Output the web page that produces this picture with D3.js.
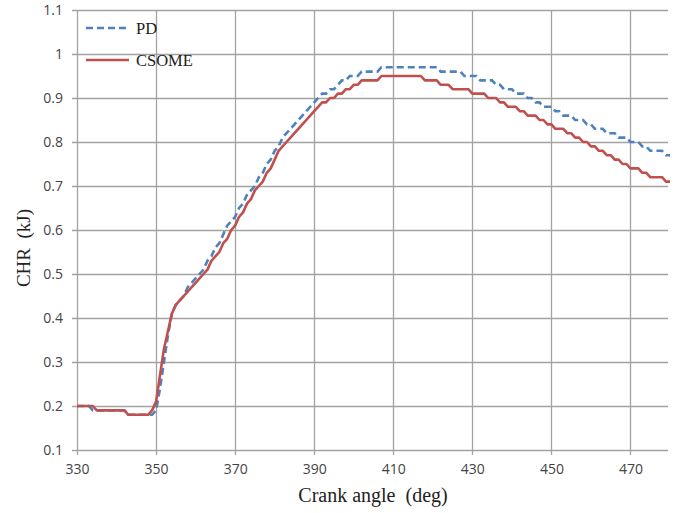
<!DOCTYPE html>
<html>
<head>
<meta charset="utf-8">
<script src="https://cdn.jsdelivr.net/npm/d3@7"></script>
<style>
  html, body { margin: 0; padding: 0; background: #fff; }
  svg { display: block; }
</style>
</head>
<body>
<svg id="chart" width="678" height="513"></svg>
<script>
// ---- data ----
const angleStart = 330;   // crank angle of first sample (deg)
const angleStep = 1;      // sampling step (deg)
const pdValues = [
  0.20,0.20,0.20,0.20,0.19,0.19,0.19,0.19,0.19,0.19, // 330-339
  0.19,0.19,0.19,0.18,0.18,0.18,0.18,0.18,0.18,0.18, // 340-349
  0.19,0.24,0.30,0.36,0.41,0.43,0.44,0.45,0.47,0.48, // 350-359
  0.49,0.50,0.51,0.53,0.54,0.56,0.57,0.59,0.61,0.62, // 360-369
  0.63,0.65,0.66,0.68,0.69,0.70,0.72,0.73,0.75,0.76, // 370-379
  0.78,0.79,0.81,0.82,0.83,0.84,0.85,0.86,0.87,0.88, // 380-389
  0.89,0.90,0.91,0.91,0.92,0.92,0.93,0.94,0.94,0.95, // 390-399
  0.95,0.95,0.96,0.96,0.96,0.96,0.96,0.97,0.97,0.97, // 400-409
  0.97,0.97,0.97,0.97,0.97,0.97,0.97,0.97,0.97,0.97, // 410-419
  0.97,0.97,0.96,0.96,0.96,0.96,0.96,0.96,0.95,0.95, // 420-429
  0.95,0.95,0.94,0.94,0.94,0.94,0.93,0.93,0.92,0.92, // 430-439
  0.92,0.91,0.91,0.91,0.90,0.90,0.89,0.89,0.88,0.88, // 440-449
  0.88,0.87,0.87,0.86,0.86,0.86,0.85,0.85,0.85,0.84, // 450-459
  0.84,0.83,0.83,0.83,0.82,0.82,0.82,0.81,0.81,0.81, // 460-469
  0.80,0.80,0.80,0.79,0.79,0.78,0.78,0.78,0.78,0.77, // 470-479
  0.77                                               // 480
];
const csomeValues = [
  0.20,0.20,0.20,0.20,0.20,0.19,0.19,0.19,0.19,0.19, // 330-339
  0.19,0.19,0.19,0.18,0.18,0.18,0.18,0.18,0.18,0.19, // 340-349
  0.21,0.27,0.33,0.37,0.41,0.43,0.44,0.45,0.46,0.47, // 350-359
  0.48,0.49,0.50,0.51,0.53,0.54,0.55,0.57,0.58,0.60, // 360-369
  0.61,0.63,0.64,0.66,0.67,0.69,0.70,0.71,0.73,0.74, // 370-379
  0.76,0.78,0.79,0.80,0.81,0.82,0.83,0.84,0.85,0.86, // 380-389
  0.87,0.88,0.89,0.89,0.90,0.90,0.91,0.91,0.92,0.92, // 390-399
  0.93,0.93,0.94,0.94,0.94,0.94,0.94,0.95,0.95,0.95, // 400-409
  0.95,0.95,0.95,0.95,0.95,0.95,0.95,0.95,0.94,0.94, // 410-419
  0.94,0.94,0.93,0.93,0.93,0.92,0.92,0.92,0.92,0.92, // 420-429
  0.91,0.91,0.91,0.91,0.90,0.90,0.90,0.89,0.89,0.88, // 430-439
  0.88,0.88,0.87,0.87,0.86,0.86,0.86,0.85,0.85,0.84, // 440-449
  0.84,0.83,0.83,0.83,0.82,0.82,0.81,0.81,0.80,0.80, // 450-459
  0.79,0.79,0.78,0.78,0.77,0.77,0.76,0.76,0.75,0.75, // 460-469
  0.74,0.74,0.74,0.73,0.73,0.72,0.72,0.72,0.72,0.71, // 470-479
  0.71                                               // 480
];
const xTicks = [330, 350, 370, 390, 410, 430, 450, 470];
const yTicks = [0.1, 0.2, 0.3, 0.4, 0.5, 0.6, 0.7, 0.8, 0.9, 1, 1.1];
const seriesNames = ["PD", "CSOME"];
const xTitle = "Crank angle\u00a0 (deg)";
const yTitle = "CHR\u00a0 (kJ)";

(function () {
// ---- layout ----
const svg = d3.select("#chart");
const pLeft = 77, pRight = 670, pTop = 10, pBottom = 450;
const x = d3.scaleLinear().domain([330, 480]).range([pLeft, pRight]);
const y = d3.scaleLinear().domain([0.1, 1.1]).range([pBottom, pTop]);
const gridColor = "#a3a3a3";
const labelColor = "#444";
const sansFont = "'Open Sans', 'Liberation Sans', sans-serif";
const serifFont = "'Liberation Serif', 'Times New Roman', serif";

const toPts = vals => vals.map((v, i) => ({a: angleStart + i * angleStep, v}));
const pdData = toPts(pdValues);
const csData = toPts(csomeValues);

// gridlines
svg.append("g").selectAll("line").data(yTicks).join("line")
  .attr("x1", pLeft - 5).attr("x2", pRight - 2)
  .attr("y1", d => Math.round(y(d)) + 0.5).attr("y2", d => Math.round(y(d)) + 0.5)
  .attr("stroke", gridColor).attr("stroke-width", 1.3);
svg.append("g").selectAll("line").data(xTicks).join("line")
  .attr("x1", d => Math.round(x(d)) + 0.5).attr("x2", d => Math.round(x(d)) + 0.5)
  .attr("y1", pTop).attr("y2", pBottom + 5)
  .attr("stroke", gridColor).attr("stroke-width", 1.3);

// axis labels via d3 axes
const xAxis = svg.append("g").attr("transform", `translate(0,${pBottom})`)
  .call(d3.axisBottom(x).tickValues(xTicks).tickSize(0).tickPadding(14).tickFormat(d3.format("d")));
xAxis.select(".domain").remove();
xAxis.selectAll("text").attr("fill", labelColor).style("font-family", sansFont).style("font-size", "14px");

const yAxis = svg.append("g").attr("transform", `translate(${pLeft},0)`)
  .call(d3.axisLeft(y).tickValues(yTicks).tickSize(0).tickPadding(14).tickFormat(d => String(+d.toFixed(1))));
yAxis.select(".domain").remove();
yAxis.selectAll("text").attr("fill", labelColor).style("font-family", sansFont).style("font-size", "14px");

// lines
const line = d3.line().x(d => x(d.a)).y(d => y(d.v));
svg.append("path").datum(pdData).attr("d", line)
  .attr("fill", "none").attr("stroke", "#4f81bd").attr("stroke-width", 2.6)
  .attr("stroke-dasharray", "7,4");
svg.append("path").datum(csData).attr("d", line)
  .attr("fill", "none").attr("stroke", "#c0504d").attr("stroke-width", 2.6)
  .attr("stroke-linejoin", "round");

// legend
const legend = svg.append("g");
const legendItems = [
  {name: seriesNames[0], color: "#4f81bd", dash: "7,4", ly: 28},
  {name: seriesNames[1], color: "#c0504d", dash: null, ly: 60}
];
legendItems.forEach(it => {
  legend.append("line").attr("x1", 86).attr("x2", 129).attr("y1", it.ly).attr("y2", it.ly)
    .attr("stroke", it.color).attr("stroke-width", 2.6)
    .attr("stroke-dasharray", it.dash);
  legend.append("text").attr("x", 136).attr("y", it.ly + 5.5)
    .text(it.name).attr("fill", "#222")
    .style("font-family", serifFont).style("font-size", "16.5px");
});

// axis titles
svg.append("text").attr("x", 373).attr("y", 502).attr("text-anchor", "middle")
  .text(xTitle).attr("fill", "#222")
  .style("font-family", serifFont).style("font-size", "20px");
svg.append("text").attr("transform", "translate(30,248) rotate(-90)").attr("text-anchor", "middle")
  .text(yTitle).attr("fill", "#222")
  .style("font-family", serifFont).style("font-size", "19px");
})();
</script>
</body>
</html>
